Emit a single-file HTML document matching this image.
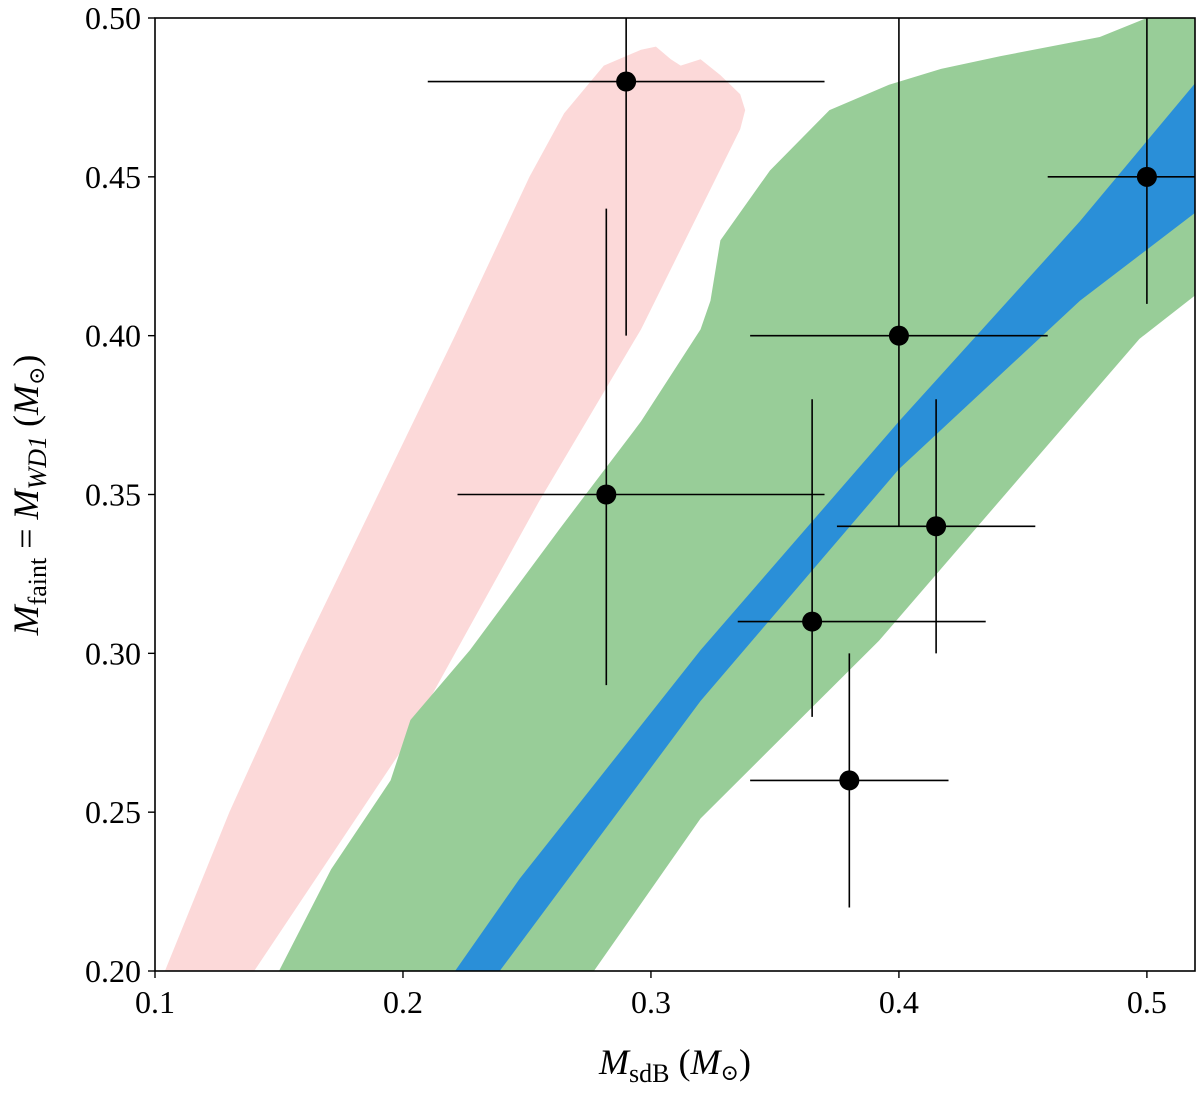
<!DOCTYPE html>
<html><head><meta charset="utf-8"><style>
body{margin:0;background:#fff;width:1200px;height:1092px;overflow:hidden}
svg text{font-family:"Liberation Serif","DejaVu Serif",serif;fill:#000}
</style></head><body>
<svg id="chart" width="1200" height="1092"></svg>
<script>
const xTicks=[0.1,0.2,0.3,0.4,0.5];
const yTicks=[0.20,0.25,0.30,0.35,0.40,0.45,0.50];
const pinkRegion=[[0.104,0.20],[0.130,0.25],[0.159,0.30],[0.190,0.35],[0.221,0.40],[0.251,0.45],[0.265,0.47],[0.281,0.485],[0.296,0.490],[0.302,0.491],[0.308,0.487],[0.312,0.485],[0.32,0.487],[0.328,0.482],[0.336,0.476],[0.338,0.471],[0.336,0.465],[0.296,0.402],[0.255,0.348],[0.199,0.269],[0.140,0.20]];
const greenRegion=[[0.150,0.20],[0.171,0.232],[0.195,0.260],[0.203,0.279],[0.227,0.301],[0.263,0.339],[0.296,0.373],[0.32,0.402],[0.324,0.411],[0.328,0.430],[0.348,0.452],[0.372,0.471],[0.396,0.479],[0.417,0.484],[0.441,0.488],[0.481,0.494],[0.50,0.50],[0.52,0.50],[0.52,0.413],[0.497,0.399],[0.392,0.304],[0.320,0.248],[0.277,0.20]];
const blueRegion=[[0.221,0.20],[0.247,0.229],[0.320,0.301],[0.400,0.373],[0.473,0.436],[0.52,0.480],[0.52,0.439],[0.473,0.411],[0.400,0.358],[0.320,0.285],[0.239,0.20]];
const ptX=[0.29,0.5,0.4,0.282,0.415,0.365,0.38];
const ptY=[0.48,0.45,0.40,0.35,0.34,0.31,0.26];
const xLo=[0.21,0.46,0.34,0.222,0.375,0.335,0.34];
const xHi=[0.37,0.54,0.46,0.37,0.455,0.435,0.42];
const yLo=[0.40,0.41,0.34,0.29,0.30,0.28,0.22];
const yHi=[0.52,0.52,0.52,0.44,0.38,0.38,0.30];
const L=155,R=1195,T=18,B=971,X0=0.1,X1=0.5194,Y0=0.2,Y1=0.5;
const sx=v=>L+(v-X0)/(X1-X0)*(R-L), sy=v=>B-(v-Y0)/(Y1-Y0)*(B-T);
const svg=document.getElementById('chart'),NS='http://www.w3.org/2000/svg';
function mk(t,a,p){const e=document.createElementNS(NS,t);for(const k in a)e.setAttribute(k,a[k]);(p||svg).appendChild(e);return e;}
const defs=mk('defs',{});const cp=mk('clipPath',{id:'clip'},defs);mk('rect',{x:L,y:T,width:R-L,height:B-T},cp);
const g=mk('g',{'clip-path':'url(#clip)'});


[[pinkRegion,'#fcd9d9','pink-region'],[greenRegion,'#98cd98','green-region'],[blueRegion,'#2a8fd8','blue-region']].forEach(([d,c,n])=>{
 const p=mk('polygon',{points:d.map(q=>sx(q[0])+','+sy(q[1])).join(' '),fill:c,'stroke-linejoin':'round'},g);
 
 
});
for(let i=0;i<ptX.length;i++){
 const eg=mk('g',{stroke:'#000','stroke-width':1.6},g);
 
 
 mk('line',{x1:sx(xLo[i]),x2:sx(xHi[i]),y1:sy(ptY[i]),y2:sy(ptY[i])},eg);
 mk('line',{x1:sx(ptX[i]),x2:sx(ptX[i]),y1:sy(yLo[i]),y2:sy(yHi[i])},eg);
 mk('circle',{cx:sx(ptX[i]),cy:sy(ptY[i]),r:10,fill:'#000',stroke:'none'},eg);
}
const fr=mk('rect',{x:L,y:T,width:R-L,height:B-T,fill:'none',stroke:'#000','stroke-width':1.6});


xTicks.forEach(v=>{
 mk('line',{x1:sx(v),x2:sx(v),y1:B,y2:B+7,stroke:'#000','stroke-width':1.4});
 const t=mk('text',{x:sx(v),y:B+42,'text-anchor':'middle','font-size':32});t.textContent=v.toFixed(1);
 
 
});
yTicks.forEach(v=>{
 mk('line',{x1:L-7,x2:L,y1:sy(v),y2:sy(v),stroke:'#000','stroke-width':1.4});
 const t=mk('text',{x:L-14,y:sy(v)+11,'text-anchor':'end','font-size':32});t.textContent=v.toFixed(2);
 
 
});
</script>
<svg width="1200" height="1092" style="position:absolute;left:0;top:0">
<text x="675" y="1074" text-anchor="middle" font-size="36"><tspan font-style="italic">M</tspan><tspan font-size="26" dy="8">sdB</tspan><tspan dy="-8"> (</tspan><tspan font-style="italic">M</tspan><tspan font-size="22" dy="6">⊙</tspan><tspan dy="-6">)</tspan></text>
<text transform="translate(38,495) rotate(-90)" text-anchor="middle" font-size="36"><tspan font-style="italic">M</tspan><tspan font-size="26" dy="8">faint</tspan><tspan dy="-8"> = </tspan><tspan font-style="italic">M</tspan><tspan font-size="26" font-style="italic" dy="8">WD1</tspan><tspan dy="-8"> (</tspan><tspan font-style="italic">M</tspan><tspan font-size="22" dy="6">⊙</tspan><tspan dy="-6">)</tspan></text>
</svg>
</body></html>
